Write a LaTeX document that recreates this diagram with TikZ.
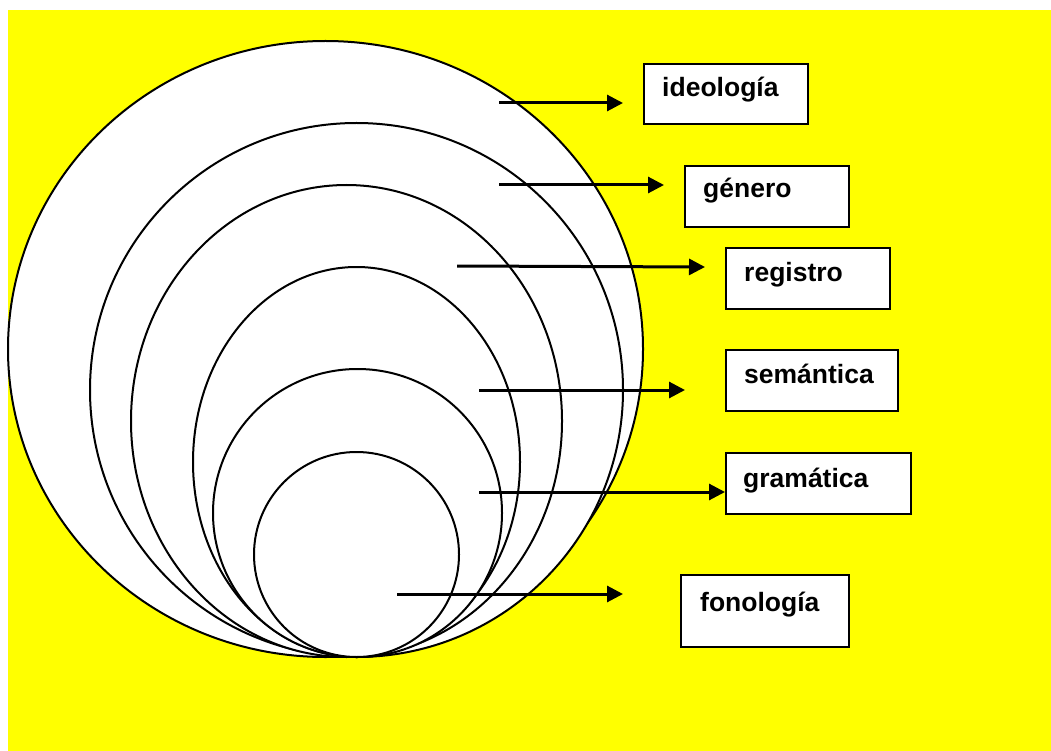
\documentclass[tikz,border=0pt]{standalone}
\usepackage{fontspec}
\setmainfont{Liberation Sans}
\usetikzlibrary{arrows.meta}
\definecolor{bgyellow}{RGB}{255,255,0}
\begin{document}
\begin{tikzpicture}[x=1pt,y=-1pt,
  ring/.style={draw=black, fill=white, line width=2pt},
  labelbox/.style={draw=black, fill=white, line width=2pt, rectangle, inner sep=0pt, anchor=north west},
  labeltext/.style={anchor=base west, inner sep=0pt, font=\fontsize{26.5}{30}\selectfont\bfseries},
  pointer/.style={line width=3pt, -{Triangle[length=16pt,width=16pt]}}]
\useasboundingbox (0,0) rectangle (1051,751);
\fill[bgyellow] (8,10) rectangle (1051,751);
% nested ellipses
\draw[ring] (325.5,349) ellipse [x radius=317.5, y radius=308];
\draw[ring] (356.5,390) ellipse [x radius=266.5, y radius=267];
\draw[ring] (346.5,421) ellipse [x radius=215.5, y radius=236];
\draw[ring] (356.5,462) ellipse [x radius=163.5, y radius=195];
\draw[ring] (357.5,513) ellipse [x radius=144.5, y radius=144];
\draw[ring] (356.5,554.5) ellipse [x radius=102.5, y radius=102.5];
% boxes
\node[labelbox, minimum width=164pt, minimum height=60pt] (b1) at (643,63) {};
\node[labelbox, minimum width=164pt, minimum height=61pt] (b2) at (684,165) {};
\node[labelbox, minimum width=164pt, minimum height=61pt] (b3) at (725,247) {};
\node[labelbox, minimum width=172pt, minimum height=61pt] (b4) at (725,349) {};
\node[labelbox, minimum width=185pt, minimum height=61pt] (b5) at (725,452) {};
\node[labelbox, minimum width=168pt, minimum height=72pt] (b6) at (680,574) {};
% labels
\node[labeltext] (t1) at (662,97) {ideología};
\node[labeltext] (t2) at (703,198) {género};
\node[labeltext] (t3) at (744,281) {registro};
\node[labeltext] (t4) at (744,383) {semántica};
\node[labeltext] (t5) at (743,487) {gramática};
\node[labeltext] (t6) at (700,611) {fonología};
% arrows
\coordinate (s1) at (499,103); \coordinate (e1) at (623,103);
\coordinate (s2) at (499,185); \coordinate (e2) at (664,185);
\coordinate (s3) at (457,266); \coordinate (e3) at (705,267);
\coordinate (s4) at (479,390); \coordinate (e4) at (685,390);
\coordinate (s5) at (479,492);
\coordinate (s6) at (397,594); \coordinate (e6) at (623,594);
\draw[pointer] (s1) -- (e1);
\draw[pointer] (s2) -- (e2);
\draw[pointer] (s3) -- (e3);
\draw[pointer] (s4) -- (e4);
\draw[pointer] (s5) -- (s5 -| b5.west);
\draw[pointer] (s6) -- (e6);
\end{tikzpicture}
\end{document}
